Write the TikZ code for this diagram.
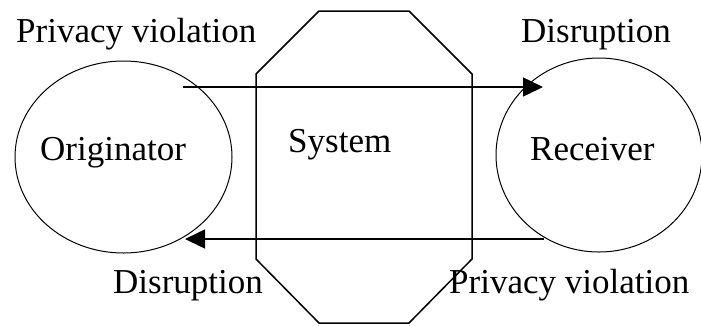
\documentclass[tikz,border=0pt]{standalone}
\usepackage{fontspec}
\setmainfont{Liberation Serif}
\usepackage{tikz}
\usetikzlibrary{arrows.meta, positioning, shapes.geometric}

\begin{document}
\begin{tikzpicture}[x=1pt, y=-1pt,
    party/.style={ellipse, draw, line width=1pt, inner sep=0pt},
    txt/.style={anchor=base west, inner sep=0pt, font=\fontsize{35}{40}\selectfont},
    flow/.style={line width=1.5pt, -{Triangle[length=20pt, width=19pt]}}]
      \useasboundingbox (0,0) rectangle (701,325);

      % the system box
      \draw[line width=1.5pt] (319,11) -- (409,11) -- (472,74) -- (472,259) -- (409,323)
        -- (319,323) -- (256,259) -- (256,74) -- cycle;

      \node[party, minimum width=217pt, minimum height=192pt] (orig) at (123.5,157) {};
      \node[party, minimum width=206pt, minimum height=194pt] (recv) at (599,155) {};

      \node[txt] (origtext) at (40,160) {Originator};
      \node[txt] (recvtext) at (530,160) {Receiver};
      \node[txt] (systext) at (288,152) {System};

      \node[txt] (privtop) at (16,42) {Privacy violation};
      \node[txt] (disrtop) at (521,42) {Disruption};
      \node[txt] (disrbot) at (113,293) {Disruption};
      \node[txt] (privbot) at (449,293) {Privacy violation};

      \coordinate (out1) at (183,87);
      \coordinate (in1) at (543,87);
      \coordinate (out2) at (544,239);
      \coordinate (in2) at (185,239);

      \draw[flow] (out1) -- (in1);
      \draw[flow] (out2) -- (in2);
    \end{tikzpicture}
\end{document}
